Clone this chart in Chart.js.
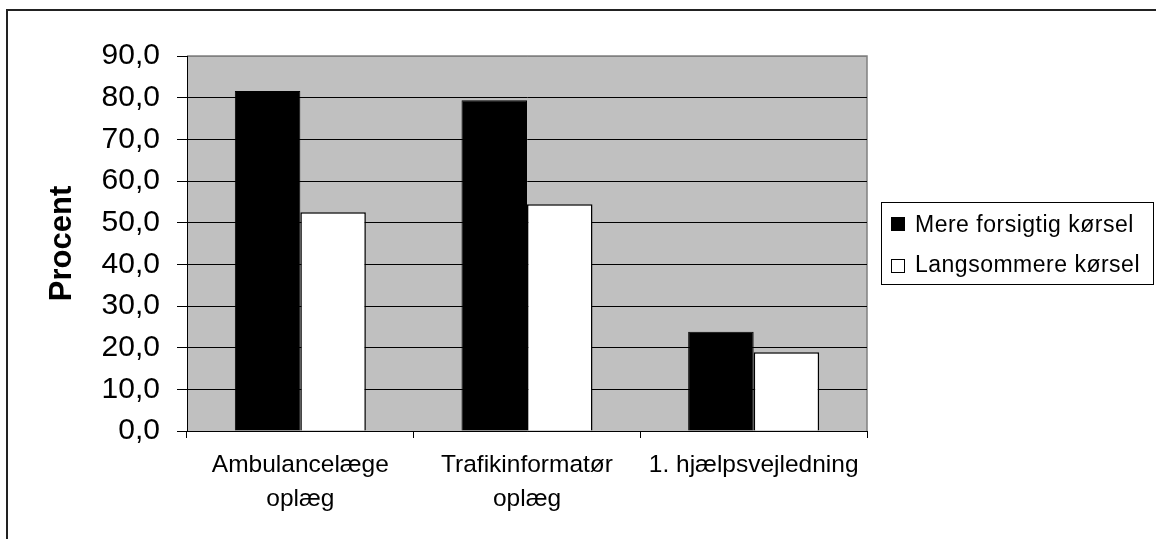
<!DOCTYPE html>
<html>
<head>
<meta charset="utf-8">
<script src="https://cdn.jsdelivr.net/npm/chart.js@4/dist/chart.umd.min.js"></script>
<style>
  html, body { margin: 0; padding: 0; background: #fff; }
  canvas { display: block; }
</style>
</head>
<body>
<canvas id="c" width="1156" height="539"></canvas>
<script>
// Categories (multi-line labels) and the two series, in percent
const categories = [['Ambulancelæge', 'oplæg'], ['Trafikinformatør', 'oplæg'], '1. hjælpsvejledning'];
const mereForsigtig = [81.6, 79.4, 23.8];
const langsommere = [52.5, 54.4, 18.9];
const seriesNames = ['Mere forsigtig kørsel', 'Langsommere kørsel'];
const yTickLabels = ['0,0', '10,0', '20,0', '30,0', '40,0', '50,0', '60,0', '70,0', '80,0', '90,0'];

const SANS = '"Liberation Sans", Arial, sans-serif';

// Grey plot background, plot frame and outer chart frame
const framePlugin = {
  id: 'frames',
  beforeDraw(chart) {
    const { ctx, chartArea: a } = chart;
    ctx.save();
    ctx.fillStyle = '#c0c0c0';
    ctx.fillRect(a.left, a.top, a.right - a.left, a.bottom - a.top);
    ctx.strokeStyle = '#808080';
    ctx.lineWidth = 1.5;
    ctx.beginPath();
    ctx.moveTo(a.left, a.top);
    ctx.lineTo(a.right, a.top);
    ctx.lineTo(a.right, a.bottom);
    ctx.stroke();
    ctx.restore();
  },
  afterDraw(chart) {
    const ctx = chart.ctx;
    ctx.save();
    ctx.strokeStyle = '#222';
    ctx.lineWidth = 2;
    ctx.strokeRect(7, 10, 1300, 700);
    ctx.restore();
  }
};

// Boxed legend to the right of the plot, built from the datasets
const boxLegend = {
  id: 'boxLegend',
  afterDraw(chart) {
    const ctx = chart.ctx;
    const x = 881, y = 202, w = 272, h = 82;
    ctx.save();
    ctx.strokeStyle = '#000';
    ctx.lineWidth = 1;
    ctx.strokeRect(x + 0.5, y + 0.5, w, h);
    ctx.font = '23px ' + SANS;
    ctx.textBaseline = 'alphabetic';
    ctx.textAlign = 'left';
    try { ctx.letterSpacing = '0.5px'; } catch (e) {}
    chart.data.datasets.forEach((ds, i) => {
      const sy = 217 + i * 42;
      ctx.fillStyle = ds.backgroundColor;
      ctx.fillRect(891, sy, 14, 14);
      ctx.strokeStyle = '#000';
      ctx.lineWidth = 1;
      ctx.strokeRect(891.5, sy + 0.5, 13, 13);
      ctx.fillStyle = '#000';
      ctx.fillText(ds.label, 915, 232 + i * 40);
    });
    ctx.restore();
  }
};

new Chart(document.getElementById('c'), {
  type: 'bar',
  data: {
    labels: categories,
    datasets: [
      {
        label: seriesNames[0],
        data: mereForsigtig,
        backgroundColor: '#000000',
        borderColor: '#000000',
        borderWidth: 1
      },
      {
        label: seriesNames[1],
        data: langsommere,
        backgroundColor: '#ffffff',
        borderColor: '#000000',
        borderWidth: 1.5
      }
    ]
  },
  options: {
    responsive: false,
    animation: false,
    devicePixelRatio: 1,
    layout: { padding: { top: 56, right: 289, bottom: 0, left: 0 } },
    datasets: { bar: { categoryPercentage: 0.578, barPercentage: 1 } },
    plugins: {
      legend: { display: false },
      tooltip: { enabled: false }
    },
    scales: {
      x: {
        offset: true,
        grid: {
          offset: true,
          drawOnChartArea: false,
          drawTicks: true,
          tickLength: 7,
          color: '#000',
          tickColor: '#000'
        },
        border: { color: '#000', width: 1 },
        ticks: {
          color: '#000',
          padding: 11,
          maxRotation: 0,
          autoSkip: false,
          font: { family: SANS, size: 24.5, lineHeight: 1.36 }
        },
        afterFit(scale) { scale.height = 108; }
      },
      y: {
        min: 0,
        max: 90,
        ticks: {
          stepSize: 10,
          color: '#000',
          padding: 17,
          font: { family: SANS, size: 30 },
          callback: (v, i) => yTickLabels[i]
        },
        grid: {
          color: (c) => (c.tick && c.tick.value === 90 ? '#808080' : '#000'),
          tickColor: '#000',
          tickLength: 10,
          lineWidth: 1
        },
        border: { color: '#000', width: 1 },
        title: {
          display: true,
          text: 'Procent',
          color: '#000',
          font: { family: SANS, size: 31, weight: 'bold' },
          padding: { top: 44, bottom: 0 }
        },
        afterFit(scale) { scale.width = 187; }
      }
    }
  },
  plugins: [framePlugin, boxLegend]
});
</script>
</body>
</html>
